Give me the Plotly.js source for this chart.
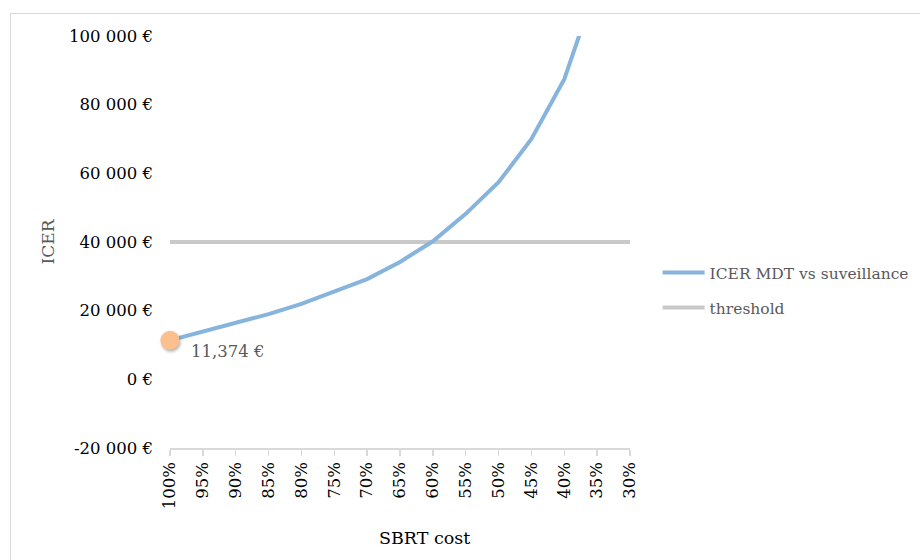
<!DOCTYPE html>
<html>
<head>
<meta charset="utf-8">
<script src="https://cdn.plot.ly/plotly-3.0.1.min.js"></script>
<style>
  html, body { margin: 0; padding: 0; width: 920px; height: 560px; overflow: hidden; background: #ffffff; }
  #frame { position: absolute; left: 10px; top: 13px; width: 1000px; height: 700px; border: 1.5px solid #d9d9d9; box-sizing: border-box; }
  #chart { position: absolute; left: 0; top: 0; width: 920px; height: 560px; }
</style>
</head>
<body>
<div id="frame"></div>
<div id="chart"></div>
<script>
const categories = ["100%", "95%", "90%", "85%", "80%", "75%", "70%", "65%", "60%", "55%", "50%", "45%", "40%", "35%", "30%"];
const icerValues = [11374, 13900, 16300, 19000, 22000, 25500, 29200, 34200, 40200, 48200, 57400, 70000, 87400, 115400, 158000];
const thresholdValues = [40000, 40000, 40000, 40000, 40000, 40000, 40000, 40000, 40000, 40000, 40000, 40000, 40000, 40000, 40000];
const yTickVals = [-20000, 0, 20000, 40000, 60000, 80000, 100000];
const yTickText = ["-20 000 €", "0 €", "20 000 €", "40 000 €", "60 000 €", "80 000 €", "100 000 €"];
const seriesNames = ["ICER MDT vs suveillance", "threshold"];
const axisTitles = { x: "SBRT cost", y: "ICER" };

const traces = [
  {
    x: categories, y: thresholdValues, type: 'scatter', mode: 'lines',
    name: seriesNames[1], legend: 'legend2',
    line: { color: '#c9c9c9', width: 4 }, hoverinfo: 'skip'
  },
  {
    x: categories, y: icerValues, type: 'scatter', mode: 'lines',
    name: seriesNames[0], legend: 'legend',
    line: { color: '#86b4dc', width: 4 }, hoverinfo: 'skip'
  },
  {
    x: [categories[0]], y: [icerValues[0]], type: 'scatter', mode: 'markers',
    showlegend: false, cliponaxis: false,
    marker: { color: '#fbc08d', size: 19, line: { width: 0 } }, hoverinfo: 'skip'
  }
];

const layout = {
  width: 920, height: 560,
  margin: { l: 170, r: 290, t: 36, b: 112, pad: 0, autoexpand: false },
  paper_bgcolor: 'rgba(0,0,0,0)',
  plot_bgcolor: 'rgba(0,0,0,0)',
  font: { family: 'DejaVu Serif, serif', size: 16.5, color: '#000000' },
  showlegend: true,
  xaxis: {
    type: 'category', range: [0, 14],
    showline: true, linecolor: '#d9d9d9', linewidth: 1.5,
    ticks: 'outside', ticklen: 6, tickcolor: '#d9d9d9', tickwidth: 1.5,
    tickangle: -90, tickfont: { size: 16.5, color: '#000000' },
    showgrid: false, zeroline: false, automargin: false
  },
  yaxis: {
    range: [-20000, 100000],
    tickmode: 'array', tickvals: yTickVals, ticktext: yTickText,
    showline: false, showgrid: false, zeroline: false, ticks: '',
    ticklabelstandoff: 16, automargin: false,
    tickfont: { size: 16.5, color: '#000000' },
    title: { text: axisTitles.y, standoff: 10, font: { size: 17, color: '#595959' } }
  },
  legend: {
    x: 1.06, xanchor: 'left', y: 0.425, yanchor: 'middle',
    bgcolor: 'rgba(0,0,0,0)', font: { size: 15.5, color: '#595959' }, itemwidth: 42
  },
  legend2: {
    x: 1.06, xanchor: 'left', y: 0.34, yanchor: 'middle',
    bgcolor: 'rgba(0,0,0,0)', font: { size: 15.5, color: '#595959' }, itemwidth: 42
  },
  annotations: [
    {
      x: categories[0], y: icerValues[0], xref: 'x', yref: 'y',
      text: icerValues[0].toLocaleString('en-US') + ' €',
      showarrow: false, xanchor: 'left', yanchor: 'middle',
      xshift: 19, yshift: -11,
      font: { size: 16.5, color: '#595959' }
    },
    {
      x: 0.554, y: -0.218, xref: 'paper', yref: 'paper',
      text: axisTitles.x, showarrow: false, xanchor: 'center', yanchor: 'middle',
      font: { size: 17.5, color: '#000000' }
    }
  ]
};

Plotly.newPlot('chart', traces, layout, { staticPlot: true, displayModeBar: false }).then(function () {
  document.querySelectorAll('.scatterlayer .trace:nth-child(3) path.point').forEach(function (p) {
    p.style.filter = 'drop-shadow(1px 2px 1.5px rgba(0,0,0,0.3))';
  });
  document.querySelectorAll('.legend .legendlines path, .legend2 .legendlines path').forEach(function (p) {
    p.setAttribute('d', 'M5,0h42');
  });
});
</script>
</body>
</html>
